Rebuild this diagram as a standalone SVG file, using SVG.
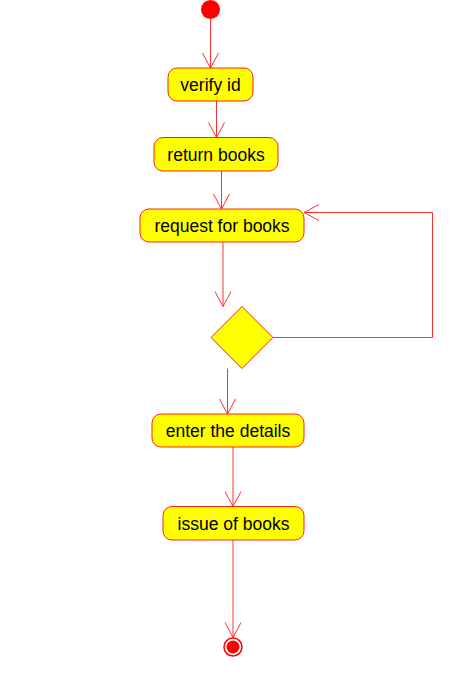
<svg xmlns="http://www.w3.org/2000/svg" width="450" height="683" viewBox="0 0 450 683">
<style>
.act{fill:#ffff00;stroke:#ff2020;stroke-width:1}
.lbl{font-family:"Liberation Sans",Arial,sans-serif;font-size:17.5px;fill:#000;text-anchor:middle}
.con{fill:none;stroke:#ff3030;stroke-width:1}
</style>
<defs>
<marker id="open" viewBox="-1 -9 17 18" refX="15" refY="0" markerWidth="17" markerHeight="18" markerUnits="userSpaceOnUse" orient="auto">
<path d="M0,-8 L15,0 L0,8" fill="none" stroke="#ff3030" stroke-width="1"/>
</marker>
</defs>
<rect width="450" height="683" fill="#fff"/>
<g id="connectors">
<line class="con" x1="210.5" y1="19" x2="210.5" y2="68" marker-end="url(#open)"/>
<line class="con" x1="216.5" y1="101" x2="216.5" y2="137.5" marker-end="url(#open)"/>
<line class="con" x1="221.5" y1="171" x2="221.5" y2="209" marker-end="url(#open)"/>
<line class="con" x1="223" y1="242" x2="223" y2="306.5" marker-end="url(#open)"/>
<polyline class="con" points="273,337.5 432.5,337.5 432.5,212.5 304,212.5" marker-end="url(#open)"/>
<line class="con" x1="227.5" y1="368.5" x2="227.5" y2="414" marker-end="url(#open)"/>
<line class="con" x1="233" y1="447" x2="233" y2="506.5" marker-end="url(#open)"/>
<line class="con" x1="233" y1="540" x2="233" y2="637.5" marker-end="url(#open)"/>
</g>
<g id="start"><circle cx="210.5" cy="9.5" r="9.5" fill="#ff0000"/></g>
<g id="verify-id"><rect class="act" x="168" y="68" width="85" height="33" rx="9"/><text class="lbl" x="210.5" y="90.5">verify id</text></g>
<g id="return-books"><rect class="act" x="154" y="137.5" width="124" height="33.5" rx="9"/><text class="lbl" x="216" y="160.5">return books</text></g>
<g id="request-for-books"><rect class="act" x="140" y="209" width="164" height="33" rx="9"/><text class="lbl" x="222" y="231.5">request for books</text></g>
<g id="decision"><polygon class="act" points="242,306.5 273,337.5 242,368.5 211,337.5"/></g>
<g id="enter-the-details"><rect class="act" x="152" y="414" width="152" height="33" rx="9"/><text class="lbl" x="228" y="436.5">enter the details</text></g>
<g id="issue-of-books"><rect class="act" x="163" y="506.5" width="141" height="33.5" rx="9"/><text class="lbl" x="233.5" y="529.5">issue of books</text></g>
<g id="end"><circle cx="233" cy="647" r="9" fill="#fff" stroke="#ff0000" stroke-width="1.5"/><circle cx="233" cy="647" r="6.5" fill="#ff0000"/></g>
</svg>
